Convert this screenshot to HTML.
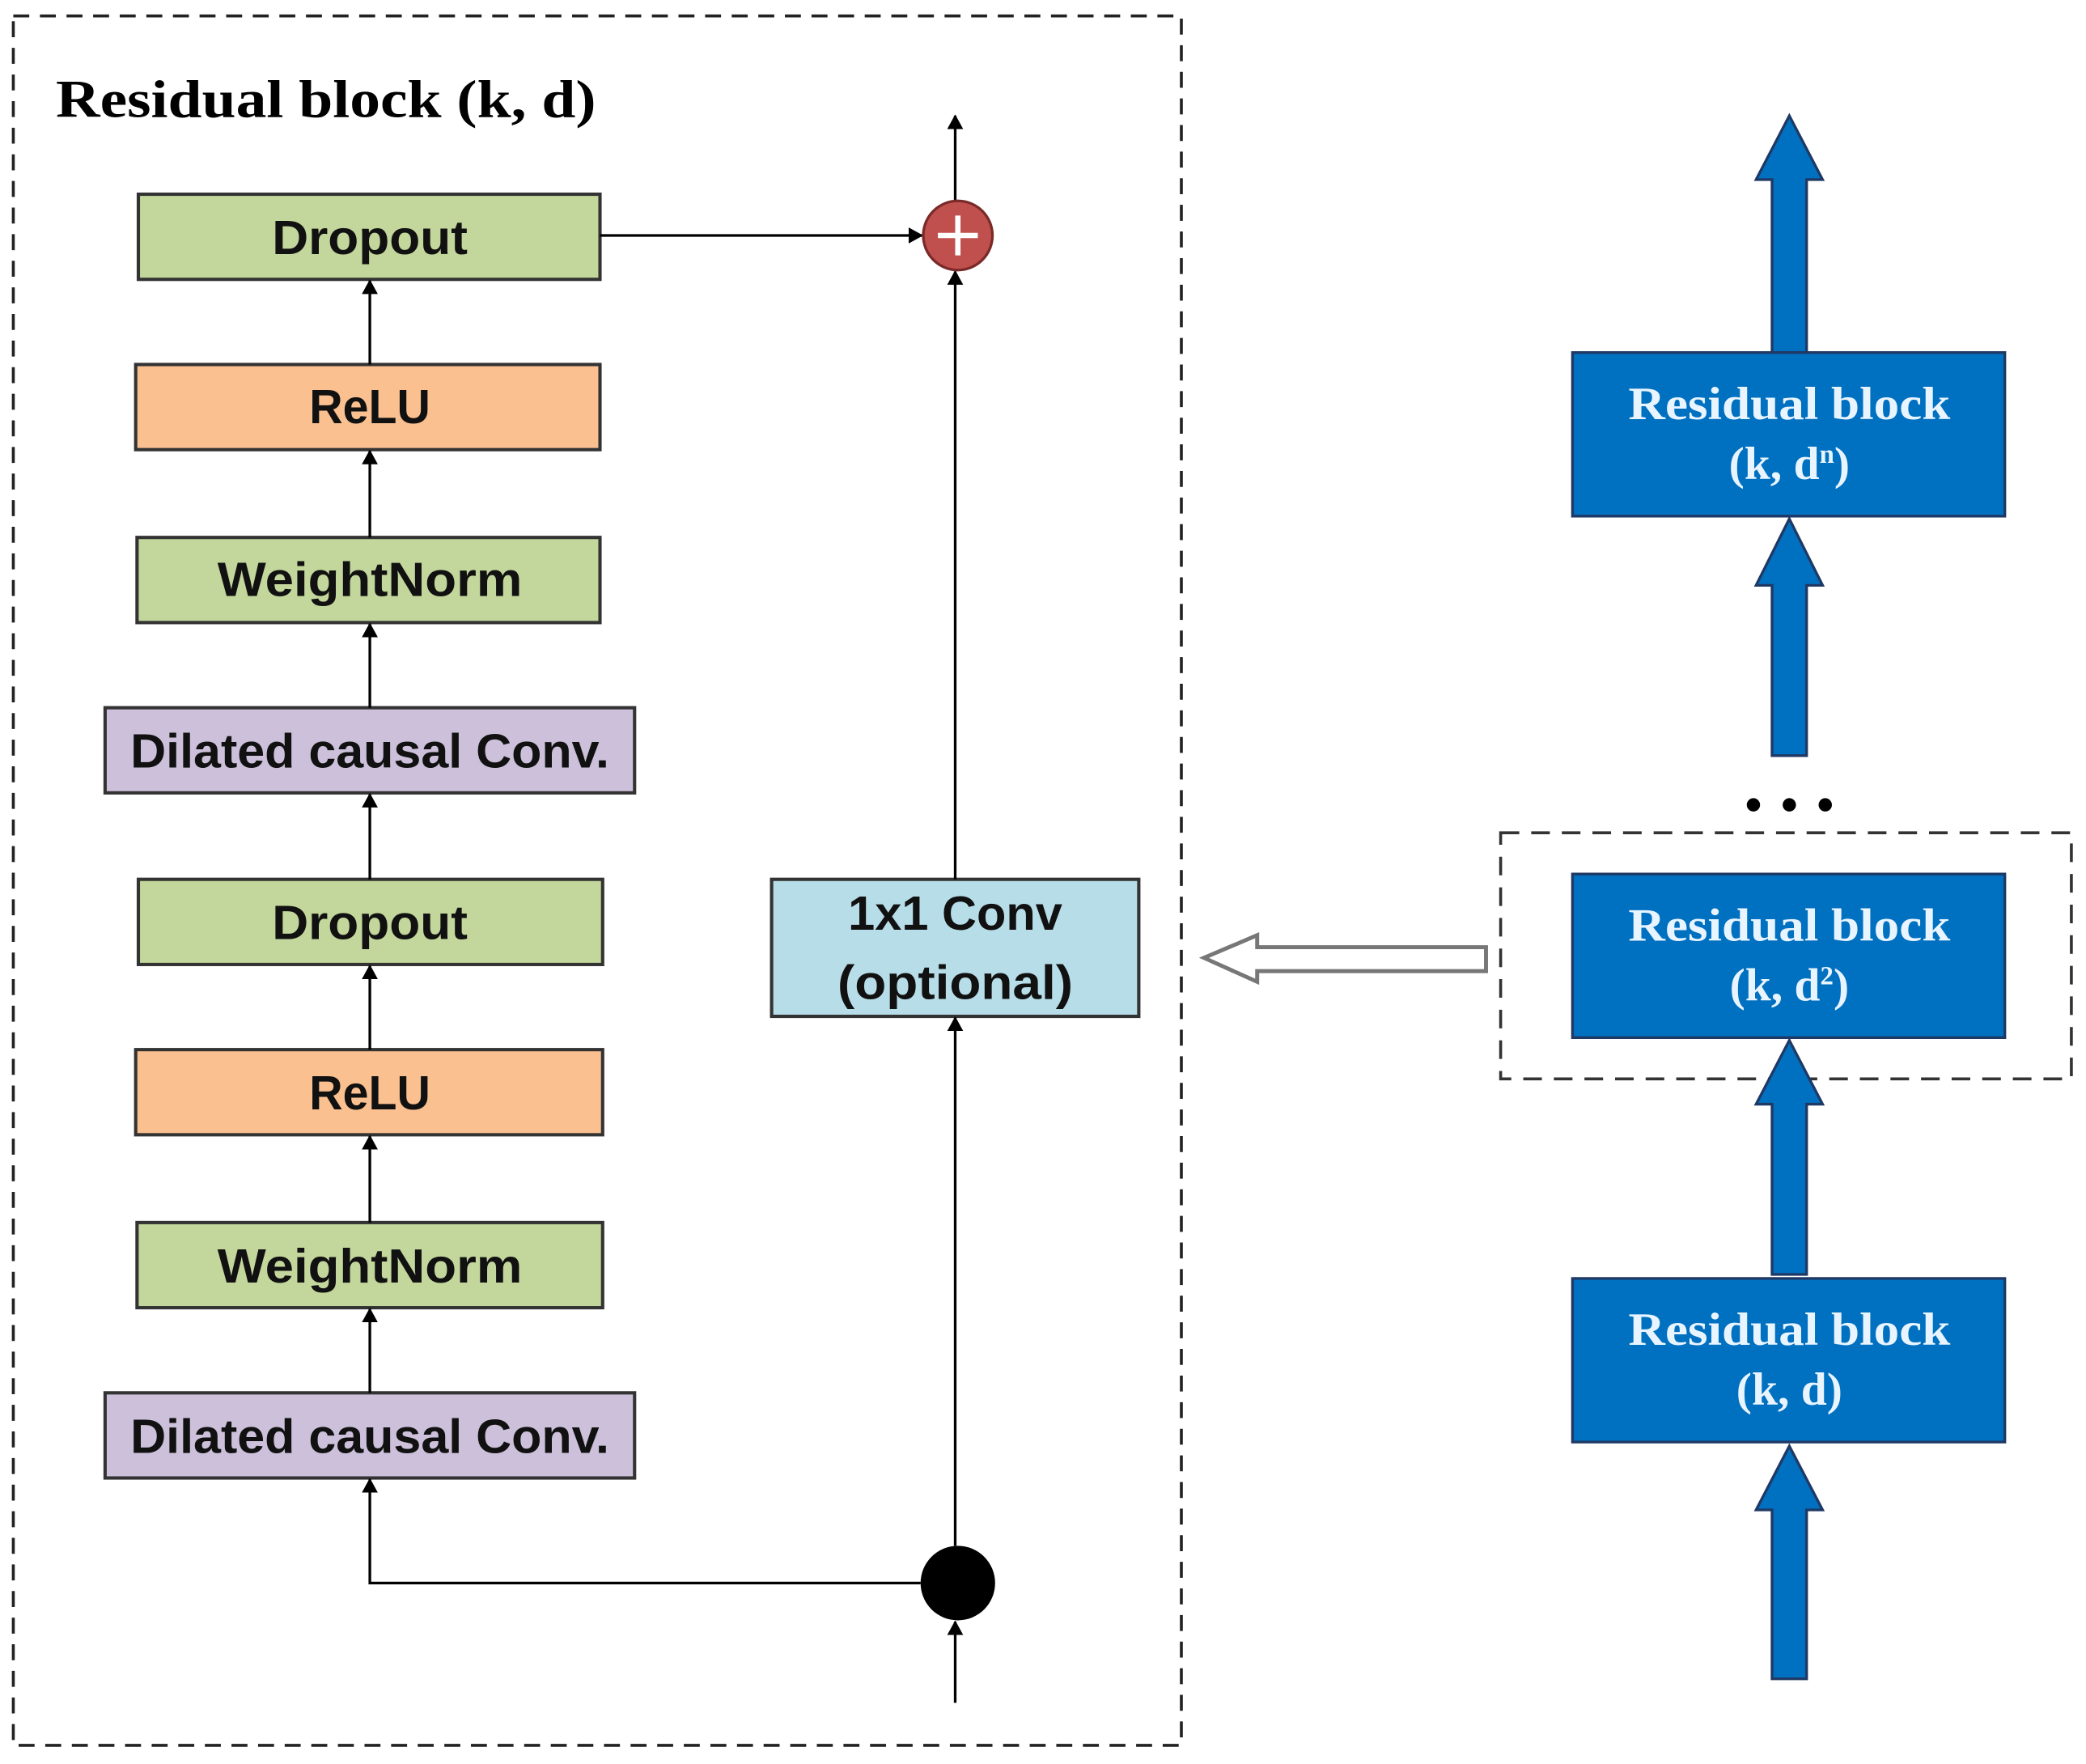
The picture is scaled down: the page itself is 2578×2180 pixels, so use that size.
<!DOCTYPE html>
<html><head><meta charset="utf-8"><style>html,body{margin:0;padding:0;background:#fff}svg{display:block}</style></head>
<body>
<svg width="2578" height="2180" viewBox="0 0 1568 1326" preserveAspectRatio="none" xmlns="http://www.w3.org/2000/svg">
<defs>
<marker id="ah" markerWidth="12" markerHeight="12" refX="10" refY="6" orient="auto" markerUnits="userSpaceOnUse">
<path d="M0,0 L11,6 L0,12 Z" fill="#000"/></marker>
</defs>
<rect width="1568" height="1326" fill="#fff"/>
<rect x="10" y="12" width="878" height="1300" fill="none" stroke="#222" stroke-width="2.2" stroke-dasharray="12,8"/>
<text x="42" y="88" font-family="Liberation Serif, serif" font-weight="bold" font-size="40" fill="#000" textLength="406" lengthAdjust="spacingAndGlyphs">Residual block (k, d)</text>
<g stroke="#333" stroke-width="2.5">
<rect x="104" y="146" width="347" height="64" fill="#c3d69b"/>
<rect x="102" y="274" width="349" height="64" fill="#fac090"/>
<rect x="103" y="404" width="348" height="64" fill="#c3d69b"/>
<rect x="79" y="532" width="398" height="64" fill="#ccc0da"/>
<rect x="104" y="661" width="349" height="64" fill="#c3d69b"/>
<rect x="102" y="789" width="351" height="64" fill="#fac090"/>
<rect x="103" y="919" width="350" height="64" fill="#c3d69b"/>
<rect x="79" y="1047" width="398" height="64" fill="#ccc0da"/>
<rect x="580" y="661" width="276" height="103" fill="#b7dde8"/>
</g>
<g font-family="Liberation Sans, sans-serif" font-weight="bold" font-size="36" text-anchor="middle" fill="#111" lengthAdjust="spacingAndGlyphs">
<text x="278" y="191" textLength="147" lengthAdjust="spacingAndGlyphs">Dropout</text>
<text x="278" y="318" textLength="91" lengthAdjust="spacingAndGlyphs">ReLU</text>
<text x="278" y="448" textLength="229" lengthAdjust="spacingAndGlyphs">WeightNorm</text>
<text x="278" y="577" textLength="360" lengthAdjust="spacingAndGlyphs">Dilated causal Conv.</text>
<text x="278" y="706" textLength="147" lengthAdjust="spacingAndGlyphs">Dropout</text>
<text x="278" y="834" textLength="91" lengthAdjust="spacingAndGlyphs">ReLU</text>
<text x="278" y="964" textLength="229" lengthAdjust="spacingAndGlyphs">WeightNorm</text>
<text x="278" y="1092" textLength="360" lengthAdjust="spacingAndGlyphs">Dilated causal Conv.</text>
<text x="718" y="699" font-size="36" textLength="161" lengthAdjust="spacingAndGlyphs">1x1 Conv</text>
<text x="718" y="751" font-size="36" textLength="177" lengthAdjust="spacingAndGlyphs">(optional)</text>
</g>
<g stroke="#000" stroke-width="2" fill="none" marker-end="url(#ah)">
<line x1="278" y1="274" x2="278" y2="211"/>
<line x1="278" y1="404" x2="278" y2="339"/>
<line x1="278" y1="532" x2="278" y2="469"/>
<line x1="278" y1="661" x2="278" y2="597"/>
<line x1="278" y1="789" x2="278" y2="726"/>
<line x1="278" y1="919" x2="278" y2="854"/>
<line x1="278" y1="1047" x2="278" y2="984"/>
<polyline points="692,1190 278,1190 278,1112"/>
<line x1="718" y1="1280" x2="718" y2="1219"/>
<line x1="718" y1="1162" x2="718" y2="765"/>
<line x1="718" y1="661" x2="718" y2="204"/>
<line x1="451" y1="177" x2="693" y2="177"/>
<line x1="718" y1="151" x2="718" y2="87"/>
</g>
<circle cx="720" cy="1190" r="28" fill="#000"/>
<circle cx="720" cy="177" r="26" fill="#c0504d" stroke="#7a2a28" stroke-width="2"/>
<path d="M720,162 V192 M705,177 H735" stroke="#fff" stroke-width="4"/>
<path d="M1117,712 L945,712 L945,703 L905,720 L945,738 L945,730 L1117,730 Z" fill="#fff" stroke="#777" stroke-width="3"/>
<rect x="1128" y="626" width="429" height="185" fill="none" stroke="#333" stroke-width="2.2" stroke-dasharray="14,9"/>
<g fill="#0070c0" stroke="#1f3864" stroke-width="2">
<path d="M1332,1262 V1135 H1320 L1345,1087 L1370,1135 H1358 V1262 Z"/>
<path d="M1332,958 V830 H1320 L1345,782 L1370,830 H1358 V958 Z"/>
<path d="M1332,568 V440 H1320 L1345,390 L1370,440 H1358 V568 Z"/>
<path d="M1332,265 V135 H1320 L1345,87 L1370,135 H1358 V265 Z"/>
<rect x="1182" y="265" width="325" height="123"/>
<rect x="1182" y="657" width="325" height="123"/>
<rect x="1182" y="961" width="325" height="123"/>
</g>
<g font-family="Liberation Serif, serif" font-weight="bold" font-size="35" text-anchor="middle" fill="#e8f4ff">
<text x="1345" y="315" textLength="242" lengthAdjust="spacingAndGlyphs">Residual block</text>
<text x="1345" y="360">(k, d<tspan font-size="20" dy="-12">n</tspan><tspan dy="12">)</tspan></text>
<text x="1345" y="707" textLength="242" lengthAdjust="spacingAndGlyphs">Residual block</text>
<text x="1345" y="752">(k, d<tspan font-size="20" dy="-12">2</tspan><tspan dy="12">)</tspan></text>
<text x="1345" y="1011" textLength="242" lengthAdjust="spacingAndGlyphs">Residual block</text>
<text x="1345" y="1056">(k, d)</text>
</g>
<circle cx="1318" cy="605" r="5" fill="#000"/>
<circle cx="1345" cy="605" r="5" fill="#000"/>
<circle cx="1372" cy="605" r="5" fill="#000"/>
</svg>
</body></html>
